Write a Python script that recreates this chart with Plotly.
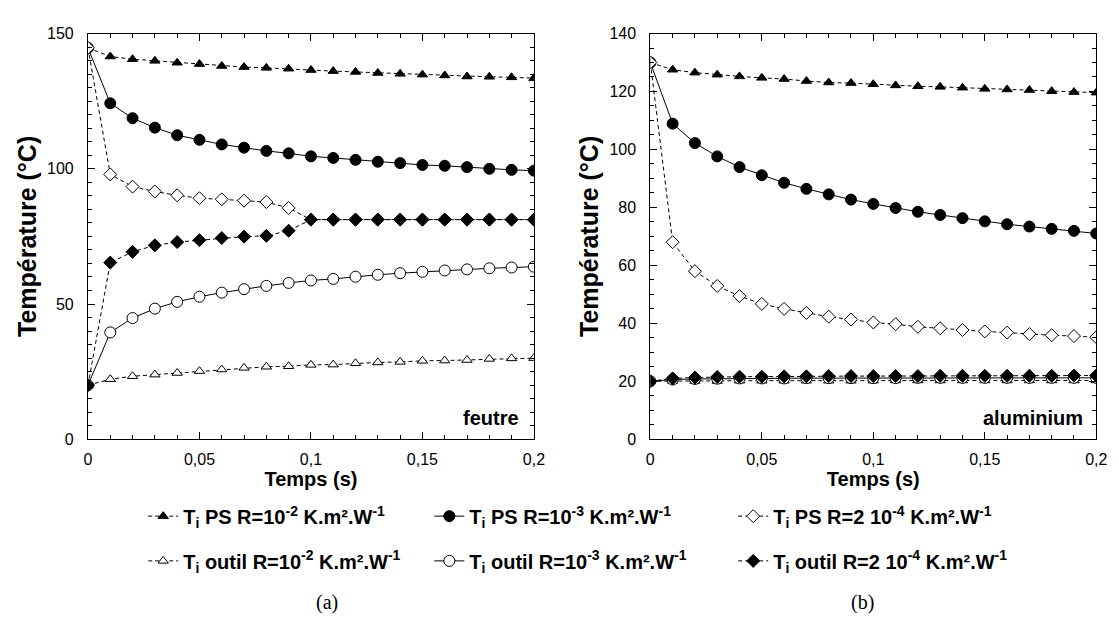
import plotly.graph_objects as go

# ---------------- data ----------------
t = [0, 0.01, 0.02, 0.03, 0.04, 0.05, 0.06, 0.07, 0.08, 0.09, 0.1,
     0.11, 0.12, 0.13, 0.14, 0.15, 0.16, 0.17, 0.18, 0.19, 0.2]

# (a) feutre
feutre_ps_r1e2 = [144.7, 141.5, 140.5, 139.9, 139.2, 138.7, 138.0, 137.6, 137.3, 137.0, 136.5,
                  136.1, 135.8, 135.4, 135.1, 134.8, 134.5, 134.1, 134.0, 133.8, 133.5]
feutre_ps_r1e3 = [144.7, 124.2, 118.7, 115.2, 112.4, 110.7, 109.0, 107.8, 106.6, 105.7, 104.6,
                  104.0, 103.3, 102.6, 102.1, 101.4, 101.1, 100.6, 100.0, 99.6, 99.3]
feutre_ps_r2e4 = [144.7, 97.9, 93.4, 91.6, 90.2, 89.1, 88.7, 88.2, 87.7, 85.5, 81.2,
                  81.2, 81.2, 81.2, 81.2, 81.2, 81.2, 81.2, 81.2, 81.2, 81.2]
feutre_out_r1e2 = [20.0, 22.2, 23.3, 23.9, 24.5, 25.2, 25.8, 26.4, 26.8, 27.0, 27.5,
                   27.6, 28.1, 28.4, 28.6, 29.0, 29.1, 29.3, 29.7, 29.9, 30.0]
feutre_out_r1e3 = [20.0, 39.5, 44.8, 48.3, 50.8, 52.7, 54.2, 55.5, 56.7, 57.8, 58.7,
                   59.3, 60.1, 60.8, 61.4, 61.9, 62.4, 62.8, 63.2, 63.5, 63.8]
feutre_out_r2e4 = [20.0, 65.3, 69.3, 71.7, 72.9, 73.6, 74.4, 74.9, 75.2, 77.1, 81.2,
                   81.2, 81.2, 81.2, 81.2, 81.2, 81.2, 81.2, 81.2, 81.2, 81.2]

# (b) aluminium
alu_ps_r1e2 = [130.0, 127.5, 126.5, 125.8, 125.2, 124.7, 124.3, 123.6, 123.1, 122.9, 122.5,
               122.1, 121.8, 121.6, 121.3, 120.9, 120.7, 120.5, 120.1, 119.8, 119.6]
alu_ps_r1e3 = [130.0, 108.9, 102.2, 97.6, 93.9, 91.1, 88.5, 86.4, 84.5, 82.7, 81.2,
               79.8, 78.5, 77.4, 76.3, 75.2, 74.2, 73.4, 72.6, 71.9, 71.0]
alu_ps_r2e4 = [130.0, 68.0, 58.0, 52.9, 49.4, 46.7, 45.0, 43.6, 42.3, 41.3, 40.3,
               39.7, 38.8, 38.3, 37.7, 37.2, 36.8, 36.3, 35.9, 35.6, 35.2]
alu_out_r1e2 = [20.0, 20.1, 20.1, 20.1, 20.2, 20.2, 20.2, 20.2, 20.2, 20.2, 20.2,
                20.3, 20.3, 20.3, 20.3, 20.3, 20.3, 20.3, 20.3, 20.3, 20.3]
alu_out_r1e3 = [20.0, 20.6, 20.8, 20.9, 21.0, 21.0, 21.0, 21.1, 21.1, 21.1, 21.1,
                21.1, 21.2, 21.2, 21.2, 21.2, 21.2, 21.2, 21.2, 21.2, 21.2]
alu_out_r2e4 = [20.0, 21.0, 21.3, 21.5, 21.6, 21.6, 21.7, 21.7, 21.8, 21.8, 21.8,
                21.8, 21.8, 21.9, 21.9, 21.9, 21.9, 21.9, 21.9, 22.0, 22.0]

x_tickvals = [0, 0.05, 0.1, 0.15, 0.2]
x_ticktext = ["0", "0,05", "0,1", "0,15", "0,2"]
names = [
    "<b>T<sub>i</sub> PS R=10<sup>-2</sup> K.m².W<sup>-1</sup></b>",
    "<b>T<sub>i</sub> PS R=10<sup>-3</sup> K.m².W<sup>-1</sup></b>",
    "<b>T<sub>i</sub> PS R=2 10<sup>-4</sup> K.m².W<sup>-1</sup></b>",
    "<b>T<sub>i</sub> outil R=10<sup>-2</sup> K.m².W<sup>-1</sup></b>",
    "<b>T<sub>i</sub> outil R=10<sup>-3</sup> K.m².W<sup>-1</sup></b>",
    "<b>T<sub>i</sub> outil R=2 10<sup>-4</sup> K.m².W<sup>-1</sup></b>",
]

# ---------------- styles ----------------
DASH = "4px,3px"
styles = [
    dict(symbol="triangle-up", size=9, color="black", dash=DASH),
    dict(symbol="circle", size=11, color="black", dash="solid"),
    dict(symbol="diamond", size=10, color="white", dash=DASH),
    dict(symbol="triangle-up", size=9, color="white", dash=DASH),
    dict(symbol="circle", size=11, color="white", dash="solid"),
    dict(symbol="diamond", size=10, color="black", dash=DASH),
]

FONT = "Liberation Sans, Arial, sans-serif"
SERIF = "Liberation Serif, Times New Roman, serif"
W, H = 1119, 630
fig = go.Figure()

left_series = [feutre_ps_r1e2, feutre_ps_r1e3, feutre_ps_r2e4,
               feutre_out_r1e2, feutre_out_r1e3, feutre_out_r2e4]
right_series = [alu_ps_r1e2, alu_ps_r1e3, alu_ps_r2e4,
                alu_out_r1e2, alu_out_r1e3, alu_out_r2e4]
legend_ids = ["legend", "legend2", "legend3", "legend4", "legend5", "legend6"]

for i, (ys, st) in enumerate(zip(left_series, styles)):
    fig.add_trace(go.Scatter(
        x=t, y=ys, mode="lines+markers", name=names[i],
        xaxis="x", yaxis="y",
        line=dict(color="black", width=1, dash=st["dash"]),
        marker=dict(symbol=st["symbol"], size=st["size"], color=st["color"],
                    line=dict(color="black", width=1)),
        showlegend=True, legend=legend_ids[i],
    ))
for i, (ys, st) in enumerate(zip(right_series, styles)):
    fig.add_trace(go.Scatter(
        x=t, y=ys, mode="lines+markers", name=names[i],
        xaxis="x2", yaxis="y2",
        line=dict(color="black", width=1, dash=st["dash"]),
        marker=dict(symbol=st["symbol"], size=st["size"], color=st["color"],
                    line=dict(color="black", width=1)),
        showlegend=False,
    ))

xd1 = [77 / W, 529 / W]
xd2 = [647 / W, 1099 / W]
yd = [1 - 435 / H, 1 - 18 / H]

common_x = dict(
    range=[0, 0.2], tickvals=x_tickvals, ticktext=x_ticktext,
    ticks="inside", ticklen=7, tickwidth=1, tickcolor="black",
    minor=dict(dtick=0.01, ticks="inside", ticklen=4, tickcolor="black", tickwidth=1),
    showline=True, linecolor="black", linewidth=1, mirror="ticks",
    showgrid=False, zeroline=False, ticklabelstandoff=6,
    tickfont=dict(family=FONT, size=16, color="black"),
    title=dict(text="<b>Temps (s)</b>", font=dict(family=FONT, size=20, color="black"), standoff=2),
)
common_y = dict(
    ticks="inside", ticklen=7, tickwidth=1, tickcolor="black",
    showline=True, linecolor="black", linewidth=1, mirror="ticks",
    showgrid=False, zeroline=False, ticklabelstandoff=10,
    tickfont=dict(family=FONT, size=16, color="black"),
    title=dict(text="<b>Température (°C)</b>", font=dict(family=FONT, size=25, color="black"), standoff=3),
)

col_x = [133, 423, 731]
row_y = [514, 560]
legends = {}
for i, lid in enumerate(legend_ids):
    legends[lid] = dict(
        orientation="h", x=col_x[i % 3] / W, xanchor="left",
        y=1 - row_y[i // 3] / H, yanchor="middle",
        bgcolor="rgba(0,0,0,0)", itemclick=False, itemdoubleclick=False,
        font=dict(family=FONT, size=20, color="black"),
    )

fig.update_layout(
    width=W, height=H,
    margin=dict(l=0, r=0, t=0, b=0),
    paper_bgcolor="white", plot_bgcolor="white",
    font=dict(family=FONT, color="black"),
    xaxis=dict(domain=xd1, anchor="y", **common_x),
    yaxis=dict(domain=yd, anchor="x", range=[0, 150], tickvals=[0, 50, 100, 150],
               minor=dict(dtick=5, ticks="inside", ticklen=4, tickcolor="black", tickwidth=1),
               **common_y),
    xaxis2=dict(domain=xd2, anchor="y2", **common_x),
    yaxis2=dict(domain=yd, anchor="x2", range=[0, 140], tickvals=[0, 20, 40, 60, 80, 100, 120, 140],
                minor=dict(dtick=5, ticks="inside", ticklen=4, tickcolor="black", tickwidth=1),
                **common_y),
    annotations=[
        dict(text="<b>feutre</b>", xref="x", yref="y", x=0.1942, y=8, xanchor="right",
             yanchor="middle", showarrow=False, font=dict(family=FONT, size=20, color="black")),
        dict(text="<b>aluminium</b>", xref="x2", yref="y2", x=0.195, y=7.5, xanchor="right",
             yanchor="middle", showarrow=False, font=dict(family=FONT, size=20, color="black")),
        dict(text="(a)", xref="paper", yref="paper", x=306 / W, y=1 - 617 / H,
             showarrow=False, font=dict(family=SERIF, size=20, color="black")),
        dict(text="(b)", xref="paper", yref="paper", x=876 / W, y=1 - 617 / H,
             showarrow=False, font=dict(family=SERIF, size=20, color="black")),
    ],
    **legends,
)

fig.write_html("out.html")
